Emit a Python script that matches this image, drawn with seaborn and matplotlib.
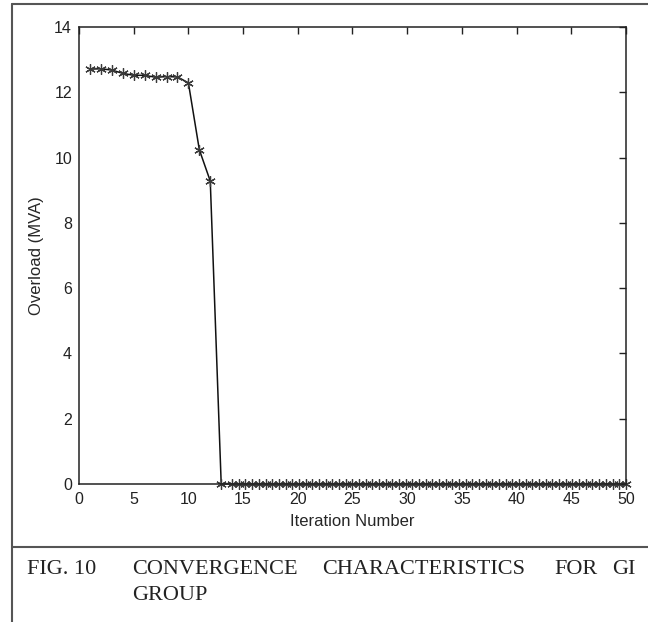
import matplotlib
matplotlib.use("Agg")
import matplotlib.pyplot as plt
from matplotlib.lines import Line2D
import pandas as pd
import seaborn as sns

# data
iter_drop = [1, 2, 3, 4, 5, 6, 7, 8, 9, 10, 11, 12]
overload_drop = [12.71, 12.72, 12.68, 12.58, 12.52, 12.52, 12.46, 12.48, 12.47, 12.29, 10.24, 9.28]

iter_zero = [13.0, 14.0, 14.61, 15.22, 15.83, 16.44, 17.05, 17.66, 18.27, 18.88, 19.49,
             20.1, 20.71, 21.32, 21.93, 22.54, 23.15, 23.76, 24.37, 24.98, 25.59,
             26.2, 26.81, 27.42, 28.03, 28.64, 29.25, 29.86, 30.47, 31.08, 31.69,
             32.3, 32.91, 33.52, 34.13, 34.74, 35.35, 35.96, 36.57, 37.18, 37.79,
             38.4, 39.01, 39.62, 40.23, 40.84, 41.45, 42.06, 42.67, 43.28, 43.89,
             44.5, 45.11, 45.72, 46.33, 46.94, 47.55, 48.16, 48.77, 49.38, 49.99]
overload_zero = [0.0] * len(iter_zero)

x_ticks = [0, 5, 10, 15, 20, 25, 30, 35, 40, 45, 50]
y_ticks = [0, 2, 4, 6, 8, 10, 12, 14]

df = pd.DataFrame({
    "Iteration Number": iter_drop + iter_zero,
    "Overload (MVA)": overload_drop + overload_zero,
})

sns.set_style("white")
plt.rcParams["font.family"] = ["Liberation Sans", "DejaVu Sans"]

fig = plt.figure(figsize=(6.48, 6.22), dpi=100)
ax = fig.add_axes([0.1219, 0.2219, 0.8441, 0.7347])

sns.lineplot(ax=ax, data=df, x="Iteration Number", y="Overload (MVA)",
             estimator=None, sort=False, color="#111111", linewidth=1.1,
             marker=(6, 2, 0), markersize=7.5, markeredgewidth=0.9,
             markeredgecolor="#3a3a3a", clip_on=False)

ax.set_xlim(0, 50)
ax.set_ylim(0, 14)
ax.set_xticks(x_ticks)
ax.set_yticks(y_ticks)
ax.tick_params(direction="in", length=5, width=1, top=True, right=True,
               labelsize=11.5, colors="#222222")
ax.tick_params(axis="x", pad=6)
ax.tick_params(axis="y", pad=5)
for s in ax.spines.values():
    s.set_color("#222222")
    s.set_linewidth(1.1)
ax.set_xlabel("Iteration Number", fontsize=12, labelpad=5)
ax.set_ylabel("Overload (MVA)", fontsize=12, labelpad=7)

# figure frame and caption separator
fc = "#555555"
fig.add_artist(Line2D([12 / 648, 1], [1 - 4 / 622, 1 - 4 / 622], color=fc, lw=1.5))
fig.add_artist(Line2D([12 / 648, 12 / 648], [0, 1 - 4 / 622], color=fc, lw=1.5))
fig.add_artist(Line2D([12 / 648, 1], [1 - 547 / 622, 1 - 547 / 622], color=fc, lw=1.5))

serif = ["Liberation Serif", "DejaVu Serif"]
cap = dict(family=serif, fontsize=16, color="#222222", va="center", ha="left")
fig.text(27 / 648, 1 - 570 / 622, "FIG. 10", **cap)
for word, xpos in [("CONVERGENCE", 132), ("CHARACTERISTICS", 322), ("FOR", 554), ("GI", 612)]:
    fig.text(xpos / 648, 1 - 570 / 622, word, **cap)
fig.text(132 / 648, 1 - 596 / 622, "GROUP", **cap)

plt.savefig("out.png", dpi=100)
